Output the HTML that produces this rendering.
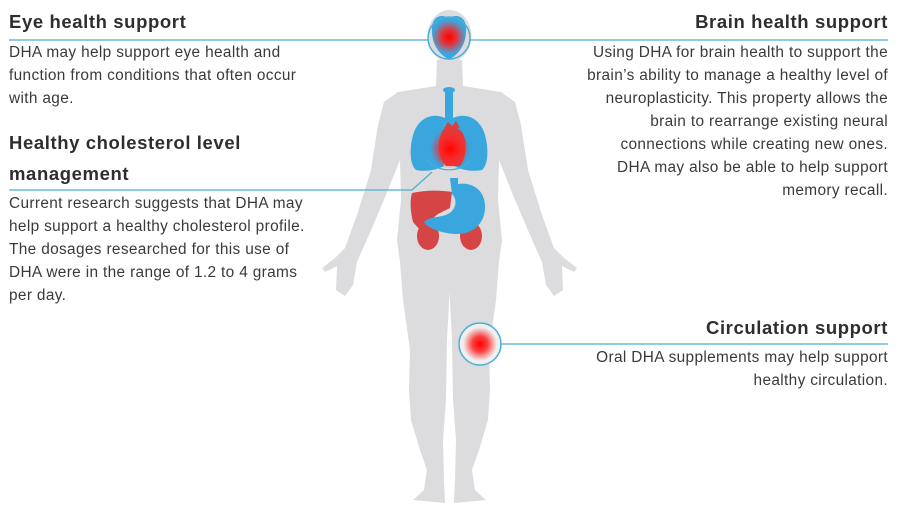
<!DOCTYPE html>
<html><head><meta charset="utf-8"><style>
html,body{margin:0;padding:0;background:#fff;}
body{width:906px;height:523px;position:relative;overflow:hidden;font-family:"Liberation Sans",Arial,sans-serif;color:#3a3a3a;}
.t{position:absolute;white-space:nowrap;font-size:15.4px;letter-spacing:0.35px;line-height:23px;}
.h{position:absolute;white-space:nowrap;font-size:18.5px;letter-spacing:0.6px;font-weight:bold;color:#2e2e2e;}
.r{text-align:right;right:18px;}
svg{position:absolute;left:0;top:0;}
</style></head><body>
<svg width="906" height="523" viewBox="0 0 906 523">
<defs>
<radialGradient id="g" cx="50%" cy="50%" r="50%">
<stop offset="0" stop-color="#ff0000"/><stop offset="0.45" stop-color="#ff2020" stop-opacity="0.85"/><stop offset="1" stop-color="#ff3030" stop-opacity="0"/>
</radialGradient>
<g id="half">
<path d="M450,58 L437,60 L436,86 L398,92 L384,102 L378,125 L371,170 L357,215 L345,248 L335,258 L322,268 L325,272 L337,266 L336,290 L345,296 L353,285 L357,262 L369,235 L386,195 L400,160 L401,200 L397,240 L400,262 L403,300 L410,350 L409,390 L411,420 L420,450 L427,470 L424,490 L413,500 L445,503 L444,480 L443,440 L446,400 L447,340 L450,283 Z" fill="#dcdcde"/>
</g>
</defs>
<use href="#half"/>
<use href="#half" transform="matrix(-1 0 0 1 899 0)"/>
<ellipse cx="449.5" cy="36" rx="22" ry="26" fill="#dcdcde"/>
<path d="M449,18 C440,13 432,18 432,28 C431,40 437,52 445,57 L449,60 L453,57 C461,52 467,40 466,28 C466,18 458,13 449,18 Z" fill="#3aa6de"/>
<circle cx="449" cy="38" r="21" fill="none" stroke="#4aaed6" stroke-width="1.5"/>
<circle cx="449" cy="37" r="17" fill="url(#g)"/>
<g stroke="#4aaed6" stroke-width="1.2" fill="none">
<line x1="9" y1="40" x2="428" y2="40"/>
<line x1="470" y1="40" x2="888" y2="40"/>
<polyline points="9,190 412,190 432,172"/>
<line x1="501" y1="344" x2="888" y2="344"/>
</g>
<rect x="445" y="88" width="8" height="40" rx="3" fill="#3aa6de"/>
<ellipse cx="449" cy="90" rx="6" ry="3" fill="#3aa6de"/>
<path d="M445,118 C432,112 418,118 413,135 C409,150 410,165 416,170 C425,172 437,170 444,166 Z" fill="#3aa6de"/>
<path d="M453,118 C466,112 480,118 485,135 C489,150 488,165 482,170 C473,172 461,170 454,166 Z" fill="#3aa6de"/>
<path d="M443,130 C448,124 456,125 462,132 C468,142 466,158 460,166 L446,166 C438,158 436,142 443,130 Z" fill="#e03a3a"/>
<path d="M444,128 L448,122 L452,126 L456,121 L460,128 Z" fill="#d94040"/>
<circle cx="450" cy="149" r="20" fill="url(#g)"/>
<path d="M428,160 A22,14 0 0 0 470,160" fill="none" stroke="#4aaed6" stroke-width="1.2"/>
<path d="M412,193 C425,190 440,190 452,192 L450,208 L438,214 C430,220 425,228 420,230 L413,222 C410,210 410,200 412,193 Z" fill="#d64545"/>
<ellipse cx="428" cy="236" rx="11" ry="14" fill="#d64545"/>
<ellipse cx="471" cy="236" rx="11" ry="14" fill="#d64545"/>
<path d="M450,178 L458,178 L458,184 C470,182 484,188 485,205 C486,222 474,235 455,234 C440,233 428,228 424,222 C430,216 440,218 448,214 C456,210 458,200 452,194 Z" fill="#3aa6de"/>
<circle cx="480" cy="344" r="21" fill="#efefef" stroke="#4aaed6" stroke-width="1.5"/>
<circle cx="480" cy="344" r="17" fill="url(#g)"/>
</svg>

<div class="h" style="left:9px;top:11px;">Eye health support</div>
<div class="t" style="left:9px;top:41px;">DHA may help support eye health and<br>function from conditions that often occur<br>with age.</div>

<div class="h" style="left:9px;top:132px;">Healthy cholesterol level</div>
<div class="h" style="left:9px;top:163px;">management</div>
<div class="t" style="left:9px;top:192px;">Current research suggests that DHA may<br>help support a healthy cholesterol profile.<br>The dosages researched for this use of<br>DHA were in the range of 1.2 to 4 grams<br>per day.</div>

<div class="h r" style="top:11px;">Brain health support</div>
<div class="t r" style="top:41px;">Using DHA for brain health to support the<br>brain’s ability to manage a healthy level of<br>neuroplasticity. This property allows the<br>brain to rearrange existing neural<br>connections while creating new ones.<br>DHA may also be able to help support<br>memory recall.</div>

<div class="h r" style="top:317px;">Circulation support</div>
<div class="t r" style="top:346px;">Oral DHA supplements may help support<br>healthy circulation.</div>
</body></html>
